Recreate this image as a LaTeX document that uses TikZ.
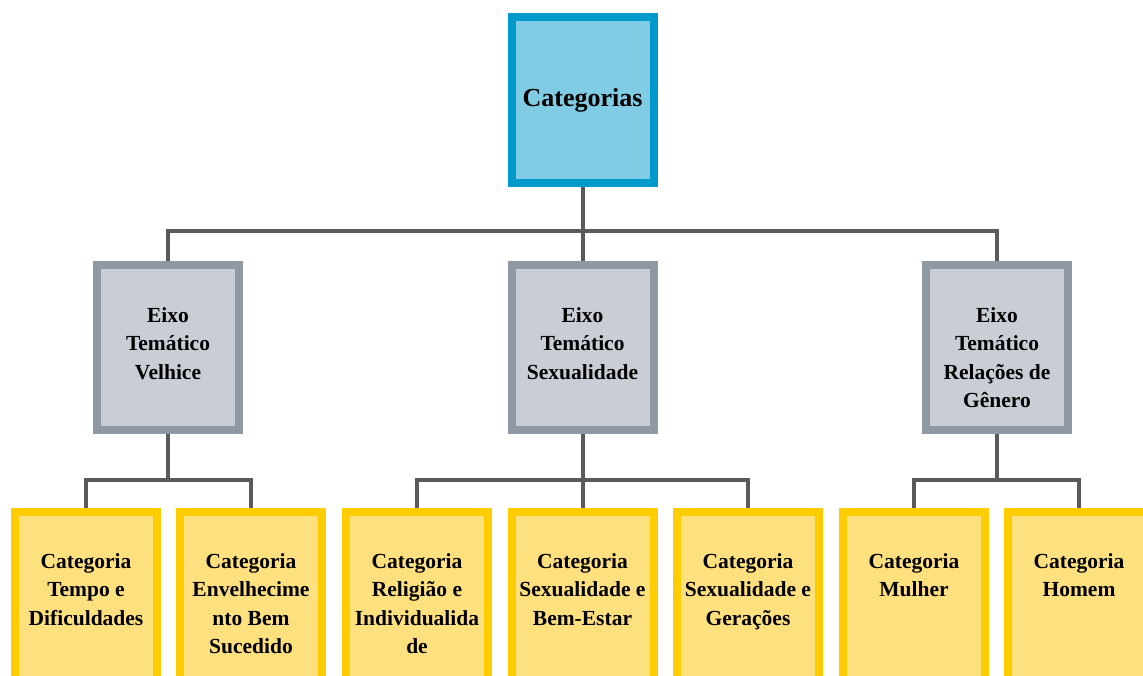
\documentclass[tikz,border=0pt]{standalone}
\usepackage{fontspec}
\setmainfont{Liberation Serif}
\usetikzlibrary{backgrounds}
\definecolor{bluefill}{HTML}{7FCCE4}
\definecolor{blueborder}{HTML}{0099CC}
\definecolor{grayfill}{HTML}{C9CED6}
\definecolor{grayborder}{HTML}{8E99A4}
\definecolor{yelfill}{HTML}{FFE07F}
\definecolor{yelborder}{HTML}{FFCC00}
\definecolor{connc}{HTML}{5A5A5A}
\begin{document}
\begin{tikzpicture}[x=1pt,y=-1pt,
  boxbase/.style={rectangle, line width=8pt, minimum width=142pt, inner sep=0pt},
  topbox/.style={boxbase, draw=blueborder, fill=bluefill, minimum height=166pt},
  midbox/.style={boxbase, draw=grayborder, fill=grayfill, minimum height=165pt},
  catbox/.style={boxbase, draw=yelborder, fill=yelfill, minimum height=168pt},
  lbl/.style={font=\bfseries\fontsize{21.5}{28.5}\selectfont, align=center, inner sep=0pt, anchor=north, text=black},
  toplbl/.style={font=\bfseries\fontsize{26}{30}\selectfont, inner sep=0pt, anchor=base, text=black},
  conn/.style={draw=connc, line width=4pt}]
\useasboundingbox (0,0) rectangle (1143,675);
\clip (0,0) rectangle (1143,675);

% top
\node[topbox] (top) at (582.5,100) {};
\node[toplbl] (ttop) at (582.5,106) {Categorias};

% middle level
\node[midbox] (m1) at (168,347.5) {};
\node[midbox] (m2) at (582.5,347.5) {};
\node[midbox] (m3) at (997,347.5) {};
\node[lbl] (tm1) at (168,307) {Eixo\\Temático\\Velhice};
\node[lbl] (tm2) at (582.5,307) {Eixo\\Temático\\Sexualidade};
\node[lbl] (tm3) at (997,307) {Eixo\\Temático\\Relações de\\Gênero};

% bottom level
\node[catbox] (c1) at (86,596) {};
\node[catbox] (c2) at (251,596) {};
\node[catbox] (c3) at (417,596) {};
\node[catbox] (c4) at (582.5,596) {};
\node[catbox] (c5) at (748,596) {};
\node[catbox] (c6) at (914,596) {};
\node[catbox] (c7) at (1079,596) {};
\node[lbl] (tc1) at (86,553) {Categoria\\Tempo e\\Dificuldades};
\node[lbl] (tc2) at (251,553) {Categoria\\Envelhecime\\nto Bem\\Sucedido};
\node[lbl] (tc3) at (417,553) {Categoria\\Religião e\\Individualida\\de};
\node[lbl] (tc4) at (582.5,553) {Categoria\\Sexualidade e\\Bem-Estar};
\node[lbl] (tc5) at (748,553) {Categoria\\Sexualidade e\\Gerações};
\node[lbl] (tc6) at (914,553) {Categoria\\Mulher};
\node[lbl] (tc7) at (1079,553) {Categoria\\Homem};

\begin{scope}[on background layer]
  \coordinate (j0) at (582.5,231);
  \draw[conn] (top.south) -- (m2.north);
  \draw[conn] (m1.north) |- (j0) -| (m3.north);

  \coordinate (j1) at (168,480);
  \draw[conn] (m1.south) -- (j1);
  \draw[conn] (c1.north) |- (j1) -| (c2.north);

  \coordinate (j2) at (582.5,480);
  \draw[conn] (m2.south) -- (c4.north);
  \draw[conn] (c3.north) |- (j2) -| (c5.north);

  \coordinate (j3) at (997,480);
  \draw[conn] (m3.south) -- (j3);
  \draw[conn] (c6.north) |- (j3) -| (c7.north);
\end{scope}
\end{tikzpicture}
\end{document}
